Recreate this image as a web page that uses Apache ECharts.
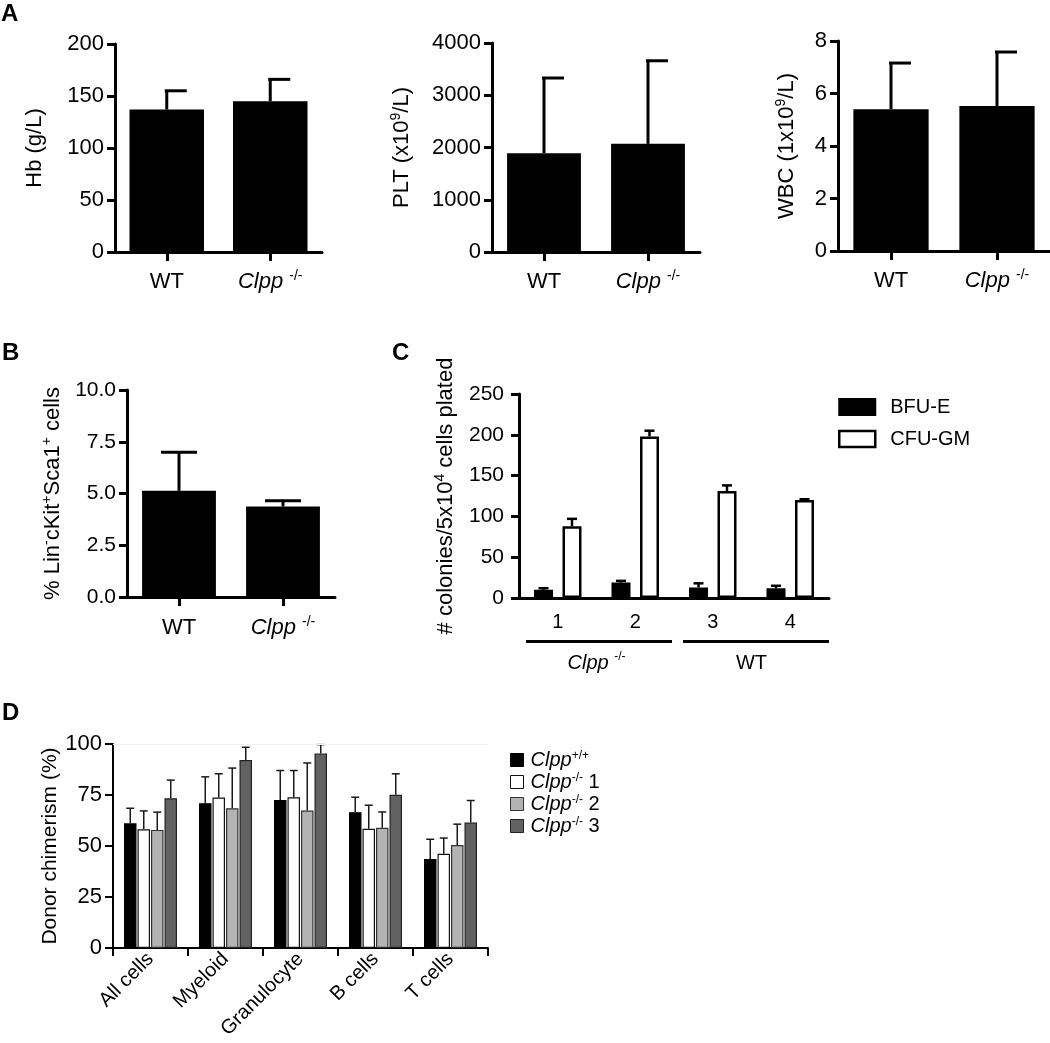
<!DOCTYPE html>
<html><head><meta charset="utf-8">
<script src="https://cdn.jsdelivr.net/npm/echarts@6/dist/echarts.min.js"></script>
<style>html,body{margin:0;padding:0;background:#fff}#c{width:1050px;height:1043px}</style>
</head><body><div id="c"></div>
<script>
// ---------- DATA ----------
const groupsA = ['WT', 'Clpp'];
const hbMean = [137, 145];
const hbUpper = [155, 166];
const pltMean = [1890, 2070];
const pltUpper = [3330, 3660];
const wbcMean = [5.40, 5.52];
const wbcUpper = [7.16, 7.58];
const lskMean = [5.13, 4.37];
const lskUpper = [6.99, 4.65];

const colonyCats = ['1', '2', '3', '4'];
const colonyGroups = ['Clpp', 'WT'];
const bfueMean = [10, 19, 13, 12];
const bfueUpper = [12, 21, 18, 15];
const cfugmMean = [88, 198, 131, 120];
const cfugmUpper = [97, 205, 138, 121];

const donorCats = ['All cells', 'Myeloid', 'Granulocyte', 'B cells', 'T cells'];
const donorNames = ['Clpp+/+', 'Clpp-/- 1', 'Clpp-/- 2', 'Clpp-/- 3'];
const wtMean  = [61.1, 71.0, 72.6, 66.6, 43.6];
const wtUpper = [68.5, 83.9, 87.0, 73.9, 53.3];
const ko1Mean  = [58.2, 73.8, 73.9, 58.4, 46.2];
const ko1Upper = [67.2, 85.4, 87.0, 70.0, 53.9];
const ko2Mean  = [57.9, 68.5, 67.4, 58.9, 50.5];
const ko2Upper = [66.6, 88.2, 90.7, 66.7, 60.7];
const ko3Mean  = [73.4, 92.1, 95.4, 75.1, 61.5];
const ko3Upper = [82.3, 98.4, 99.7, 85.4, 72.3];

// ---------- HELPERS ----------
const FF = '"Liberation Sans", Arial, Helvetica, sans-serif';
function rich(fs) {
  return {
    n: {fontSize: fs, fontFamily: FF, color: '#000', lineHeight: fs + 4},
    i: {fontSize: fs, fontFamily: FF, color: '#000', fontStyle: 'italic', lineHeight: fs + 4},
    s: {fontSize: Math.round(fs * 0.62), fontFamily: FF, color: '#000', verticalAlign: 'top', lineHeight: Math.round(fs * 0.62)}
  };
}
function yAx(gi, max, interval, name, nameGap, fsTick, fsName, lw, extra) {
  return Object.assign({
    type: 'value', gridIndex: gi, min: 0, max: max, interval: interval,
    name: name, nameLocation: 'middle', nameGap: nameGap, nameRotate: 90,
    nameTextStyle: {fontSize: fsName, color: '#000', fontFamily: FF, rich: rich(fsName)},
    axisLine: {show: true, lineStyle: {color: '#000', width: lw}},
    axisTick: {show: true, length: 8, lineStyle: {color: '#000', width: lw}},
    axisLabel: {fontSize: fsTick, color: '#000', margin: 11, fontFamily: FF, formatter: v => String(v)},
    splitLine: {show: false}
  }, extra || {});
}
function clppLabel(v) { return v === 'Clpp' ? '{i|Clpp} {s|-/-}' : '{n|' + v + '}'; }
function xAxA(gi, fs, margin) {
  return {
    type: 'category', gridIndex: gi, data: groupsA,
    axisLine: {show: true, lineStyle: {color: '#000', width: 3}},
    axisTick: {show: true, alignWithLabel: true, interval: 0, length: 9, lineStyle: {color: '#000', width: 3}},
    axisLabel: {fontSize: fs, color: '#000', margin: margin, interval: 0, fontFamily: FF, formatter: clppLabel, rich: rich(fs)}
  };
}
function barS(gi, data, color, width, extra) {
  return Object.assign({
    type: 'bar', xAxisIndex: gi, yAxisIndex: gi, data: data, barWidth: width,
    itemStyle: {color: color}, silent: true, z: 2
  }, extra || {});
}
function errS(gi, mean, upper, o) {
  return {
    type: 'custom', xAxisIndex: gi, yAxisIndex: gi, silent: true, z: 4,
    data: mean.map((m, i) => [i, m, upper[i]]),
    encode: {x: 0, y: [1, 2]},
    renderItem: function (params, api) {
      const c = api.value(0), v = api.value(1), h = api.value(2);
      const p0 = api.coord([c, v]), p1 = api.coord([c, h]);
      const x = p0[0] + o.off;
      const st = {stroke: o.color, lineWidth: o.lw};
      return {type: 'group', children: [
        {type: 'line', shape: {x1: x, y1: p0[1], x2: x, y2: p1[1]}, style: st},
        {type: 'line', shape: {x1: x - o.capL, y1: p1[1], x2: x + o.capR, y2: p1[1]}, style: st}
      ]};
    }
  };
}

const errA = {off: 0, capL: 2, capR: 20, lw: 3, color: '#000'};
const errB = {off: 0, capL: 18, capR: 18, lw: 3, color: '#000'};

// D layout
const dBarW = 12.5, dGap = 0.08;
const dStep = dBarW * (1 + dGap);
const dColors = ['#000000', '#ffffff', '#b3b3b3', '#626262'];
const dBorders = ['#000000', '#111111', '#333333', '#222222'];
const dMeans = [wtMean, ko1Mean, ko2Mean, ko3Mean];
const dUppers = [wtUpper, ko1Upper, ko2Upper, ko3Upper];

// C layout
const cBarW = 19, cGap = 0.5;
const cStep = cBarW * (1 + cGap);

const chart = echarts.init(document.getElementById('c'), null, {renderer: 'canvas'});

const series = [];
series.push(barS(0, hbMean, '#000', '72%'));
series.push(errS(0, hbMean, hbUpper, errA));
series.push(barS(1, pltMean, '#000', '71%'));
series.push(errS(1, pltMean, pltUpper, errA));
series.push(barS(2, wbcMean, '#000', '71%'));
series.push(errS(2, wbcMean, wbcUpper, errA));
series.push(barS(3, lskMean, '#000', '71%'));
series.push(errS(3, lskMean, lskUpper, errB));
// C
series.push(barS(4, bfueMean, '#000', cBarW, {name: 'BFU-E', barGap: (cGap * 100) + '%',
  itemStyle: {color: '#000', borderColor: '#000', borderWidth: 2.5}}));
series.push(barS(4, cfugmMean, '#fff', cBarW, {name: 'CFU-GM', barGap: (cGap * 100) + '%',
  itemStyle: {color: '#fff', borderColor: '#000', borderWidth: 2.5}}));
series.push(errS(4, bfueMean, bfueUpper, {off: -cStep / 2, capL: 5, capR: 5, lw: 2.5, color: '#000'}));
series.push(errS(4, cfugmMean, cfugmUpper, {off: cStep / 2, capL: 5, capR: 5, lw: 2.5, color: '#000'}));
// D
for (let k = 0; k < 4; k++) {
  const s = barS(5, dMeans[k], dColors[k], dBarW, {name: donorNames[k], barGap: (dGap * 100) + '%',
    itemStyle: {color: dColors[k], borderColor: dBorders[k], borderWidth: 1.2}});
  if (k === 0) {
    s.markLine = {silent: true, symbol: 'none', label: {show: false},
      lineStyle: {color: '#f0f0f0', type: 'solid', width: 1}, data: [{yAxis: 100}]};
  }
  series.push(s);
}
for (let k = 0; k < 4; k++) {
  series.push(errS(5, dMeans[k], dUppers[k], {off: (k - 1.5) * dStep, capL: 4, capR: 4, lw: 1.5, color: '#1a1a1a'}));
}

const titleStyle = {fontSize: 24, fontWeight: 'bold', color: '#000', fontFamily: FF};

const option = {
  animation: false,
  backgroundColor: '#fff',
  textStyle: {fontFamily: FF, color: '#000'},
  title: [
    {text: 'A', left: 1, top: 2, textStyle: titleStyle, padding: 0},
    {text: 'B', left: 2, top: 341, textStyle: titleStyle, padding: 0},
    {text: 'C', left: 392, top: 341, textStyle: titleStyle, padding: 0},
    {text: 'D', left: 2, top: 701, textStyle: titleStyle, padding: 0}
  ],
  grid: [
    {left: 115, top: 44, width: 207, height: 208},
    {left: 492, top: 43, width: 208, height: 209},
    {left: 838, top: 41, width: 212, height: 210},
    {left: 127, top: 390, width: 208, height: 207},
    {left: 519, top: 394, width: 310, height: 204},
    {left: 113, top: 744, width: 375, height: 204}
  ],
  legend: [
    {
      left: 838, top: 397, padding: 0, orient: 'vertical', icon: 'rect', itemWidth: 36, itemHeight: 16, itemGap: 12,
      selectedMode: false,
      data: [
        {name: 'BFU-E', itemStyle: {color: '#000', borderColor: '#000', borderWidth: 2}},
        {name: 'CFU-GM', itemStyle: {color: '#fff', borderColor: '#000', borderWidth: 2.5}}
      ],
      formatter: n => '{p|}{t|' + n + '}',
      textStyle: {rich: {p: {width: 10}, t: {fontSize: 20, fontFamily: FF, color: '#000', lineHeight: 20}}}
    },
    {
      left: 510, top: 750, padding: 0, orient: 'vertical', icon: 'rect', itemWidth: 13, itemHeight: 13, itemGap: 2,
      selectedMode: false,
      data: donorNames.map((n, k) => ({name: n, itemStyle: {color: dColors[k], borderColor: dBorders[k], borderWidth: 1}})),
      formatter: function (n) {
        const m = n.match(/^Clpp(\S+)(.*)$/);
        return '{p|}{i|Clpp}{s|' + m[1] + '}' + (m[2] ? '{n|' + m[2] + '}' : '');
      },
      textStyle: {rich: {
        p: {width: 2},
        i: {fontSize: 20, fontStyle: 'italic', fontFamily: FF, color: '#000', lineHeight: 20},
        s: {fontSize: 12, fontFamily: FF, color: '#000', verticalAlign: 'top', lineHeight: 12},
        n: {fontSize: 20, fontFamily: FF, color: '#000', lineHeight: 20}
      }}
    }
  ],
  xAxis: [
    xAxA(0, 22, 17),
    xAxA(1, 22, 17),
    xAxA(2, 22, 17),
    xAxA(3, 22, 18),
    {
      type: 'category', gridIndex: 4, data: colonyCats,
      axisLine: {show: true, lineStyle: {color: '#000', width: 3}},
      axisTick: {show: false},
      axisLabel: {fontSize: 20, color: '#000', margin: 14, interval: 0, fontFamily: FF}
    },
    {
      type: 'category', gridIndex: 5, data: donorCats,
      axisLine: {show: true, lineStyle: {color: '#000', width: 2}},
      axisTick: {show: true, alignWithLabel: false, interval: 0, length: 8, lineStyle: {color: '#000', width: 2}},
      axisLabel: {fontSize: 20, color: '#000', margin: 8, rotate: 45, interval: 0, fontFamily: FF}
    },
    {
      type: 'category', gridIndex: 4, data: colonyGroups, position: 'bottom', offset: 44,
      axisLine: {show: false}, axisTick: {show: false},
      axisLabel: {fontSize: 20, color: '#000', margin: 9, interval: 0, fontFamily: FF, formatter: clppLabel, rich: rich(20)}
    }
  ],
  yAxis: [
    yAx(0, 200, 50, '{n|Hb (g/L)}', 67, 22, 22, 3),
    yAx(1, 4000, 1000, '{n|PLT (x10}{s|9}{n|/L)}', 77, 22, 22, 3),
    yAx(2, 8, 2, '{n|WBC (1x10}{s|9}{n|/L)}', 38, 22, 22, 3),
    yAx(3, 10, 2.5, '{n|% Lin}{s|-}{n|cKit}{s|+}{n|Sca1}{s|+}{n| cells}', 61, 21, 22, 3,
      {axisLabel: {fontSize: 21, color: '#000', margin: 11, fontFamily: FF, formatter: v => v.toFixed(1)}}),
    yAx(4, 250, 50, '{n|# colonies/5x10}{s|4}{n| cells plated}', 60, 21, 22, 3,
      {axisLabel: {fontSize: 21, color: '#000', margin: 15, fontFamily: FF, formatter: v => String(v)}}),
    yAx(5, 100, 25, '{n|Donor chimerism (%)}', 50, 22, 21, 2)
  ],
  series: series
};
chart.setOption(option);

// group underline bars in panel C, positioned from the axis scale
(function () {
  const px = i => chart.convertToPixel({xAxisIndex: 4}, colonyCats[i]);
  const band = px(1) - px(0);
  const y = chart.convertToPixel({yAxisIndex: 4}, 0) + 43.5;
  const segs = [[px(0) - band / 2 + 7, px(1) + band / 2 - 2], [px(2) - band / 2 + 9, px(3) + band / 2]];
  chart.setOption({graphic: segs.map(s => ({
    type: 'line', silent: true, shape: {x1: s[0], y1: y, x2: s[1], y2: y},
    style: {stroke: '#000', lineWidth: 3}
  }))});
})();
</script></body></html>
